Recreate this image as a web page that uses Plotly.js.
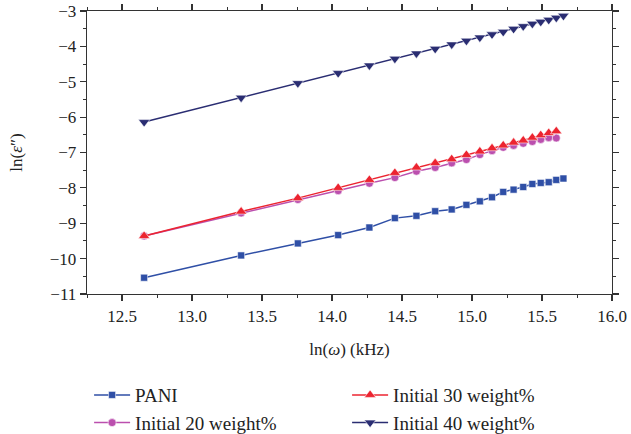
<!DOCTYPE html>
<html>
<head>
<meta charset="utf-8">
<script src="https://cdn.plot.ly/plotly-3.0.1.min.js"></script>
<style>
html,body{margin:0;padding:0;background:#fff;}
#chart{width:631px;height:434px;}
</style>
</head>
<body>
<div id="chart"></div>
<script>
// ln(omega) values (kHz)
const lnOmega = [12.658, 13.351, 13.756, 14.044, 14.267, 14.449, 14.603, 14.737, 14.855, 14.960,
                 15.056, 15.143, 15.223, 15.297, 15.366, 15.431, 15.491, 15.548, 15.602, 15.653];

const pani   = [-10.54, -9.91, -9.57, -9.335, -9.12, -8.855, -8.79, -8.66, -8.61, -8.48,
                -8.38, -8.265, -8.115, -8.05, -7.975, -7.89, -7.86, -7.84, -7.775, -7.735];
const wt20   = [-9.36, -8.71, -8.33, -8.08, -7.87, -7.71, -7.53, -7.425, -7.295, -7.20,
                -7.06, -6.95, -6.855, -6.80, -6.74, -6.69, -6.63, -6.58, -6.59];
const wt30   = [-9.36, -8.67, -8.29, -8.00, -7.775, -7.577, -7.425, -7.30, -7.19, -7.07,
                -6.97, -6.88, -6.80, -6.72, -6.66, -6.58, -6.51, -6.45, -6.40];
const wt40   = [-6.14, -5.45, -5.04, -4.755, -4.54, -4.35, -4.20, -4.07, -3.945, -3.84,
                -3.75, -3.66, -3.59, -3.505, -3.43, -3.36, -3.305, -3.25, -3.19, -3.135];

const seriesNames = ["PANI", "Initial 20 weight%", "Initial 30 weight%", "Initial 40 weight%"];
const xTickVals = [12.5, 13.0, 13.5, 14.0, 14.5, 15.0, 15.5, 16.0];
const xTickText = ["12.5", "13.0", "13.5", "14.0", "14.5", "15.0", "15.5", "16.0"];
const yTickVals = [-11, -10, -9, -8, -7, -6, -5, -4, -3];

const FONT = "Liberation Serif, Times New Roman, serif";

function tr(y, name, color, symbol, size, rank) {
  return {
    x: lnOmega.slice(0, y.length), y: y, name: name, type: "scatter", mode: "lines+markers",
    line: {color: color, width: 1.5},
    marker: {color: color, symbol: symbol, size: size, line: {color: "rgba(255,255,255,0.55)", width: 1}},
    legendrank: rank
  };
}

const data = [
  tr(pani, seriesNames[0], "#2f4fa6", "square", 7, 1),
  tr(wt20, seriesNames[1], "#bb4fae", "circle", 8, 3),
  tr(wt30, seriesNames[2], "#ec2430", "triangle-up", 10, 2),
  tr(wt40, seriesNames[3], "#2a2d72", "triangle-down", 10, 4)
];

const axisCommon = {
  showgrid: false, zeroline: false, showline: true, linecolor: "#333", linewidth: 1.3,
  mirror: "ticks", ticks: "outside", ticklen: 6, tickwidth: 1.2, tickcolor: "#333",
  tickfont: {family: FONT, size: 17, color: "#222"}
};

const layout = {
  width: 631, height: 434,
  margin: {l: 86.5, r: 19, t: 10.5, b: 140, autoexpand: false},
  paper_bgcolor: "#fff", plot_bgcolor: "#fff",
  font: {family: FONT, color: "#222"},
  xaxis: Object.assign({}, axisCommon, {
    range: [12.25, 16.0], tickvals: xTickVals, ticktext: xTickText,
    minor: {dtick: 0.25, tick0: 12.25, ticks: "outside", ticklen: 3, tickwidth: 1, tickcolor: "#333"},
    title: {text: "ln(<i>ω</i>) (kHz)", font: {family: FONT, size: 17, color: "#222"}, standoff: 18}
  }),
  yaxis: Object.assign({}, axisCommon, {
    range: [-11, -3], tickvals: yTickVals,
    minor: {dtick: 0.5, tick0: -11, ticks: "outside", ticklen: 3, tickwidth: 1, tickcolor: "#333"},
    title: {text: "ln(<i>ε</i>″)", font: {family: FONT, size: 17, color: "#222"}, standoff: 22}
  }),
  showlegend: true,
  legend: {
    orientation: "h", x: 0.004, xanchor: "left", y: -0.29, yanchor: "top",
    entrywidth: 207, entrywidthmode: "pixels", itemwidth: 36,
    font: {family: FONT, size: 19, color: "#222"},
    bgcolor: "rgba(0,0,0,0)", traceorder: "normal"
  }
};

Plotly.newPlot("chart", data, layout, {displayModeBar: false, staticPlot: true});
</script>
</body>
</html>
